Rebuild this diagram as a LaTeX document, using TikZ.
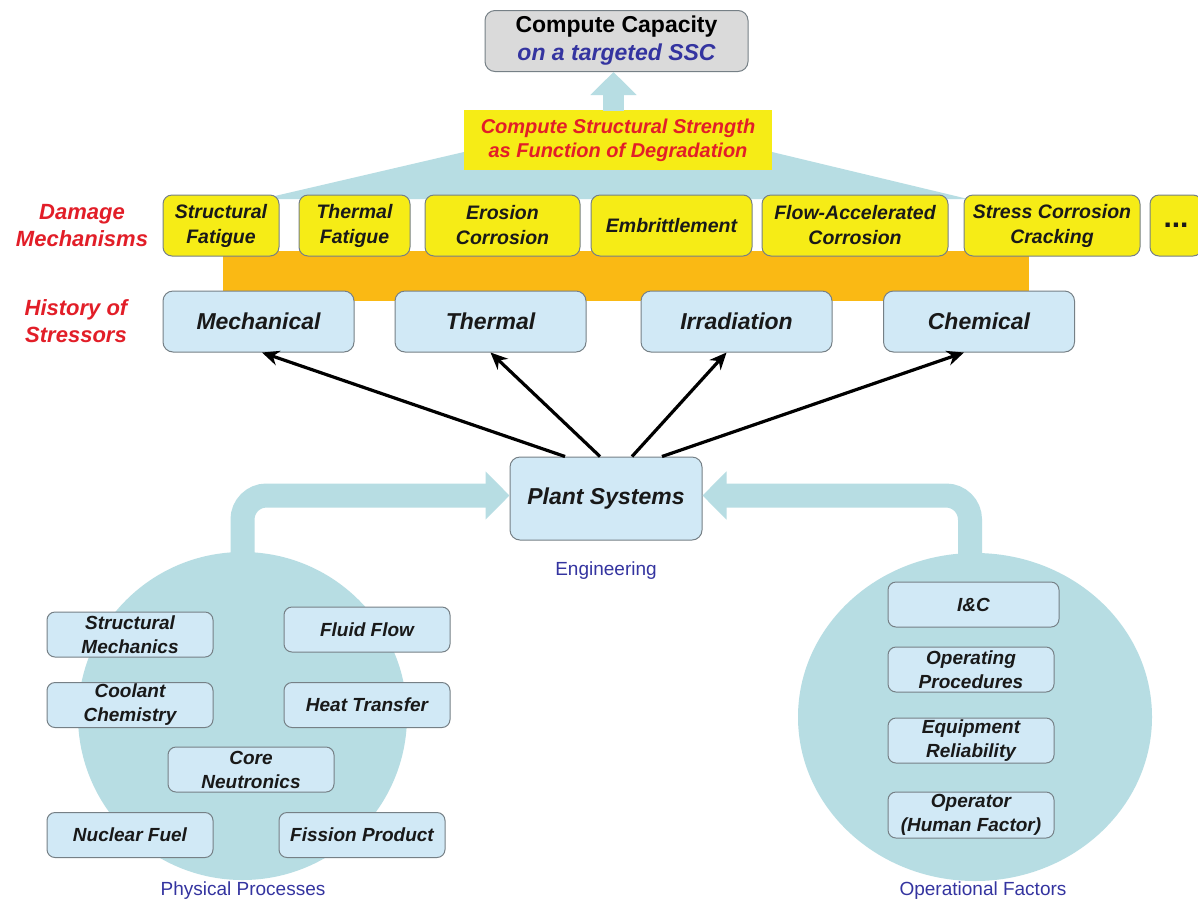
\documentclass[tikz,border=0pt]{standalone}
\usepackage{fontspec}
\setmainfont{Liberation Sans}
\usetikzlibrary{arrows.meta,shapes.geometric}
\definecolor{circ}{RGB}{183,221,227}
\definecolor{lblue}{RGB}{209,233,246}
\definecolor{bgray}{RGB}{118,128,134}
\definecolor{yel}{RGB}{246,236,22}
\definecolor{orng}{RGB}{250,185,20}
\definecolor{redt}{RGB}{226,30,40}
\definecolor{bluet}{RGB}{52,52,160}
\definecolor{graybox}{RGB}{218,218,218}
\definecolor{txt}{RGB}{25,25,25}
\tikzset{
  dmgbox/.style={draw=bgray, line width=1pt, fill=yel, rounded corners=9pt, inner sep=0pt,
    minimum height=61pt, align=center, text=txt,
    font=\fontsize{19.5}{25}\selectfont\bfseries\itshape},
  strbox/.style={draw=bgray, line width=1pt, fill=lblue, rounded corners=10pt, inner sep=0pt,
    minimum height=61pt, minimum width=191pt, align=center, text=txt,
    font=\fontsize{23}{28}\selectfont\bfseries\itshape},
  smallbox/.style={draw=bgray, line width=1pt, fill=lblue, rounded corners=8pt, inner sep=0pt,
    minimum height=45pt, minimum width=166pt, align=center, text=txt,
    font=\fontsize{19}{24}\selectfont\bfseries\itshape},
  redlbl/.style={text=redt, align=center, inner sep=0pt,
    font=\fontsize{22}{27}\selectfont\bfseries\itshape},
  bluelbl/.style={text=bluet, inner sep=0pt, font=\fontsize{19}{22}\selectfont},
  conn/.style={line width=3.2pt, black, -{Stealth[length=17pt,width=15pt]}},
  bigarrow/.style={line width=24pt, circ, rounded corners=24pt, -{Triangle[length=24pt,width=47pt]}},
}
\begin{document}
\begin{tikzpicture}[x=1pt,y=-1pt]
\useasboundingbox (0,0) rectangle (1198,903);
\fill[white] (0,0) rectangle (1198,903);

% fan and orange band
\fill[circ] (464,152) -- (262,199) -- (968,199) -- (772,152) -- cycle;
\fill[orng] (223,251) rectangle (1029,301);

% top boxes
\node[draw=bgray, line width=1pt, fill=graybox, rounded corners=10pt, inner sep=0pt,
  minimum width=263pt, minimum height=61pt, align=center,
  font=\fontsize{23}{28}\selectfont\bfseries] (cc) at (616.5,41)
  {Compute Capacity\\\textcolor{bluet}{\itshape on a targeted SSC}};
\node[fill=yel, inner sep=0pt, minimum width=308pt, minimum height=60pt, align=center,
  text=redt, font=\fontsize{20}{24}\selectfont\bfseries\itshape] (ys) at (618,140)
  {Compute Structural Strength\\as Function of Degradation};
\draw[line width=21pt, circ, -{Triangle[length=23pt,width=45pt]}]
  ([xshift=-4.5pt,yshift=-1pt]ys.north) -- ([xshift=-3pt]cc.south);

% labels
\node[redlbl] (dm) at (82,226) {Damage\\Mechanisms};
\node[redlbl] (hs) at (76,321) {History of\\Stressors};

% damage mechanisms
\node[dmgbox, minimum width=116pt] (sf) at (221,225.5) {Structural\\Fatigue};
\node[dmgbox, minimum width=111pt] (tf) at (354.5,225.5) {Thermal\\Fatigue};
\node[dmgbox, minimum width=155pt] (ec) at (502.5,225.5) {Erosion\\Corrosion};
\node[dmgbox, minimum width=161pt] (em) at (671.5,225.5) {Embrittlement};
\node[dmgbox, minimum width=186pt] (fac) at (855,225.5) {Flow-Accelerated\\Corrosion};
\node[dmgbox, minimum width=176pt] (scc) at (1052,225.5) {Stress Corrosion\\Cracking};
\node[dmgbox, minimum width=52pt, font=\fontsize{30}{30}\selectfont\bfseries] (dots) at (1176,225.5) {...};

% stressors
\node[strbox] (mech) at (258.5,321.5) {Mechanical};
\node[strbox] (therm) at (490.5,321.5) {Thermal};
\node[strbox] (irr) at (736.5,321.5) {Irradiation};
\node[strbox] (chem) at (979,321.5) {Chemical};

% plant systems
\node[strbox, minimum width=192pt, minimum height=83pt] (ps) at (606,498.5) {Plant Systems};
\node[bluelbl] (eng) at (606,571) {Engineering};

\draw[conn] ([xshift=-41pt]ps.north) -- ([xshift=3.5pt]mech.south);
\draw[conn] ([xshift=-6pt]ps.north) -- (therm.south);
\draw[conn] ([xshift=26pt]ps.north) -- ([xshift=-10pt]irr.south);
\draw[conn] ([xshift=56pt]ps.north) -- ([xshift=-15pt]chem.south);

% circles
\node[ellipse, fill=circ, minimum width=329pt, minimum height=328pt, inner sep=0pt] (lc) at (242.5,716) {};
\node[ellipse, fill=circ, minimum width=354pt, minimum height=328pt, inner sep=0pt] (rc) at (975,717) {};

\draw[bigarrow] ([yshift=-12pt]lc.north) |- ([yshift=3pt]ps.west);
\draw[bigarrow] ([xshift=-5pt,yshift=-12pt]rc.north) |- ([yshift=3pt]ps.east);

% physical processes
\node[smallbox] (smech) at (130,634.5) {Structural\\Mechanics};
\node[smallbox] (ff) at (367,629.5) {Fluid Flow};
\node[smallbox] (cchem) at (130,705) {Coolant\\Chemistry};
\node[smallbox] (ht) at (367,705) {Heat Transfer};
\node[smallbox] (cn) at (251,769.5) {Core\\Neutronics};
\node[smallbox] (nf) at (130,835) {Nuclear Fuel};
\node[smallbox] (fp) at (362,835) {Fission Product};
\node[bluelbl] (pp) at (243,891) {Physical Processes};

% operational factors
\node[smallbox, minimum width=171pt] (ic) at (973.5,604.5) {I\&C};
\node[smallbox] (op) at (971,669.5) {Operating\\Procedures};
\node[smallbox] (er) at (971,740.5) {Equipment\\Reliability};
\node[smallbox, minimum height=46pt] (ohf) at (971,815) {Operator\\(Human Factor)};
\node[bluelbl] (of) at (983,891) {Operational Factors};
\end{tikzpicture}
\end{document}
